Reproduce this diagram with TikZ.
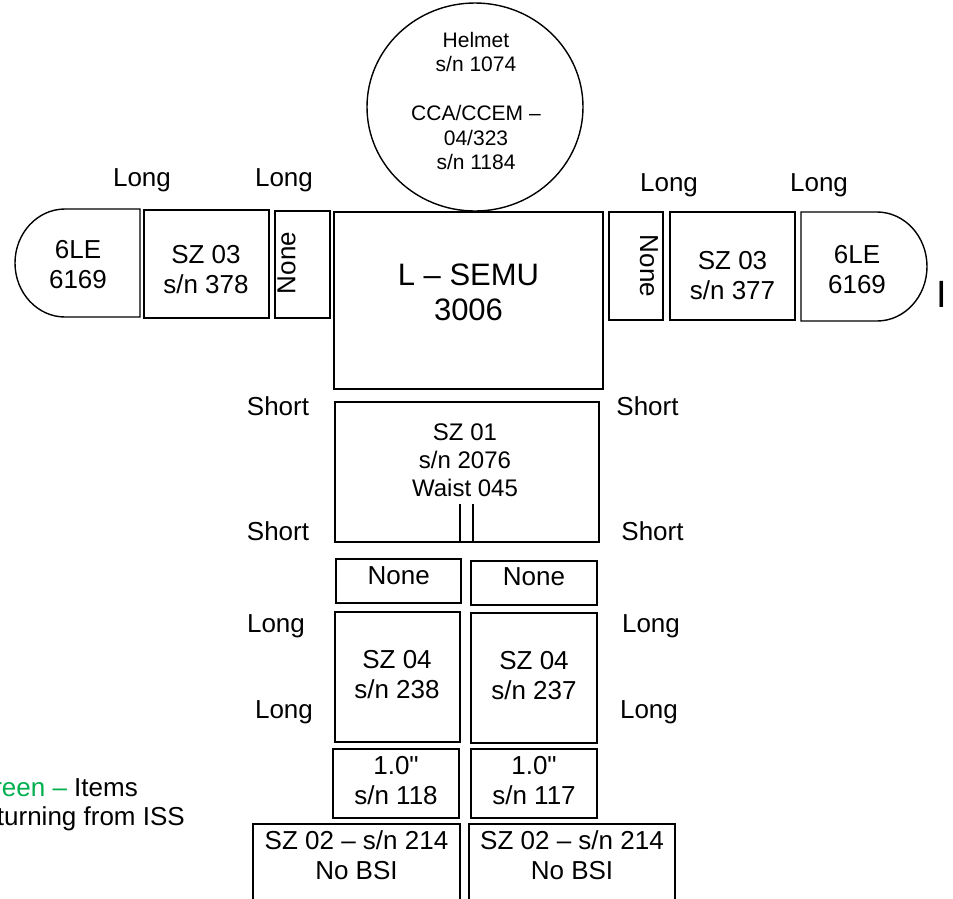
\documentclass[tikz,border=0pt]{standalone}
\usepackage{fontspec}
\setmainfont{Liberation Sans}
\newfontfamily\plainquote{Liberation Sans}
\usetikzlibrary{shapes.geometric}
\definecolor{issgreen}{RGB}{0,176,80}
\begin{document}
\begin{tikzpicture}[x=1pt,y=-1pt,
  outline/.style={draw=black, line width=1.4pt},
  box/.style={outline, rectangle, inner sep=0pt},
  lbl/.style={inner sep=0pt, anchor=base, font=\fontsize{26}{30}\selectfont},
  itm/.style={inner sep=0pt, align=center, font=\fontsize{26}{30}\selectfont},
  itmbig/.style={inner sep=0pt, align=center, font=\fontsize{31}{35}\selectfont},
  itmcirc/.style={inner sep=0pt, align=center, font=\fontsize{21}{24.4}\selectfont},
  itmwaist/.style={inner sep=0pt, align=center, font=\fontsize{24}{28}\selectfont}]
\path[use as bounding box] (0,0) rectangle (953,898);
\fill[white] (0,0) rectangle (953,898);
\clip (0,0) rectangle (953,898);

% helmet
\node[outline, ellipse, inner sep=0pt, minimum width=216pt, minimum height=208pt] (helmet) at (475,107) {};
\node[itmcirc] (helmettext) at (476,101) {Helmet\\s/n 1074\\[24.4pt]CCA/CCEM --\\04/323\\s/n 1184};

% left arm
\draw[outline] (140,209) -- (65,209) .. controls (37.4,209) and (15,233.2) .. (15,263) .. controls (15,292.8) and (37.4,317) .. (65,317) -- (140,317) -- cycle;
\node[itm] (gloveL) at (78,264.5) {6LE\\6169};
\node[box, minimum width=125pt, minimum height=108pt] (szL) at (206.5,264) {};
\node[itm] (szLt) at (206,270) {SZ 03\\s/n 378};
\node[box, minimum width=55pt, minimum height=107pt] (noneL) at (302.5,264.5) {};
\node[itm, rotate=90] (noneLt) at (286.5,263) {None};

% torso
\node[box, minimum width=269pt, minimum height=177pt] (semu) at (468.5,300.5) {};
\node[itmbig] (semut) at (468.5,292.5) {L -- SEMU\\3006};

% right arm
\node[box, minimum width=54pt, minimum height=108pt] (noneR) at (636,266) {};
\node[itm, rotate=-90] (noneRt) at (649,266) {None};
\node[box, minimum width=125pt, minimum height=108pt] (szR) at (732.5,266) {};
\node[itm] (szRt) at (732.5,275.2) {SZ 03\\s/n 377};
\draw[outline] (801,212) -- (877,212) .. controls (904.6,212) and (927,236.4) .. (927,266.5) .. controls (927,296.6) and (904.6,321) .. (877,321) -- (801,321) -- cycle;
\node[itm] (gloveR) at (857,269.5) {6LE\\6169};
\node[inner sep=0pt, anchor=base, font=\fontsize{38}{40}\selectfont] (cursor) at (941.5,307) {I};

% arm labels
\node[lbl] (longA) at (142,186) {Long};
\node[lbl] (longB) at (284,186) {Long};
\node[lbl] (longC) at (669,191.7) {Long};
\node[lbl] (longD) at (819,191.7) {Long};

% waist
\node[box, minimum width=264pt, minimum height=140pt] (sz01) at (467,472) {};
\node[itmwaist] (sz01t) at (465,460) {SZ 01\\s/n 2076\\Waist 045};
\coordinate (crotchA) at (460,504.3);
\coordinate (crotchB) at (473,504.3);
\draw[outline] (crotchA) -- (crotchA |- sz01.south);
\draw[outline] (crotchB) -- (crotchB |- sz01.south);
\node[lbl] (shortA) at (278,415.7) {Short};
\node[lbl] (shortB) at (647.5,415.7) {Short};
\node[lbl] (shortC) at (278,540) {Short};
\node[lbl] (shortD) at (652.5,540) {Short};

% knees
\node[box, minimum width=125pt, minimum height=44pt] (kneeL) at (398.5,581) {};
\node[lbl] (kneeLt) at (398.8,584) {None};
\node[box, minimum width=126pt, minimum height=44pt] (kneeR) at (534,583) {};
\node[lbl] (kneeRt) at (534,585.7) {None};

% legs
\node[box, minimum width=125pt, minimum height=130pt] (legL) at (397.5,677) {};
\node[itm] (legLt) at (397,674.3) {SZ 04\\s/n 238};
\node[box, minimum width=126pt, minimum height=130pt] (legR) at (534,678) {};
\node[itm] (legRt) at (534,675.3) {SZ 04\\s/n 237};
\node[lbl] (longE) at (276,632.3) {Long};
\node[lbl] (longF) at (651,632.3) {Long};
\node[lbl] (longG) at (284,718.3) {Long};
\node[lbl] (longH) at (649,718.3) {Long};

% ankles
\node[box, minimum width=126pt, minimum height=69pt] (ankL) at (396,783.5) {};
\node[itm] (ankLt) at (396,780.7) {1.0{\plainquote"}\\s/n 118};
\node[box, minimum width=126pt, minimum height=69pt] (ankR) at (534,783.5) {};
\node[itm] (ankRt) at (534,780.7) {1.0{\plainquote"}\\s/n 117};

% boots
\node[box, minimum width=207pt, minimum height=86pt] (bootL) at (356.5,867) {};
\node[itm] (bootLt) at (356.5,855.3) {SZ 02 -- s/n 214\\No BSI};
\node[box, minimum width=206pt, minimum height=86pt] (bootR) at (572,867) {};
\node[itm] (bootRt) at (572,855.3) {SZ 02 -- s/n 214\\No BSI};

% legend
\node[lbl, anchor=base east] (legendA) at (138,796.7) {\textcolor{issgreen}{Green --} Items};
\node[lbl, anchor=base east] (legendB) at (185,825) {Returning from ISS};
\end{tikzpicture}
\end{document}
